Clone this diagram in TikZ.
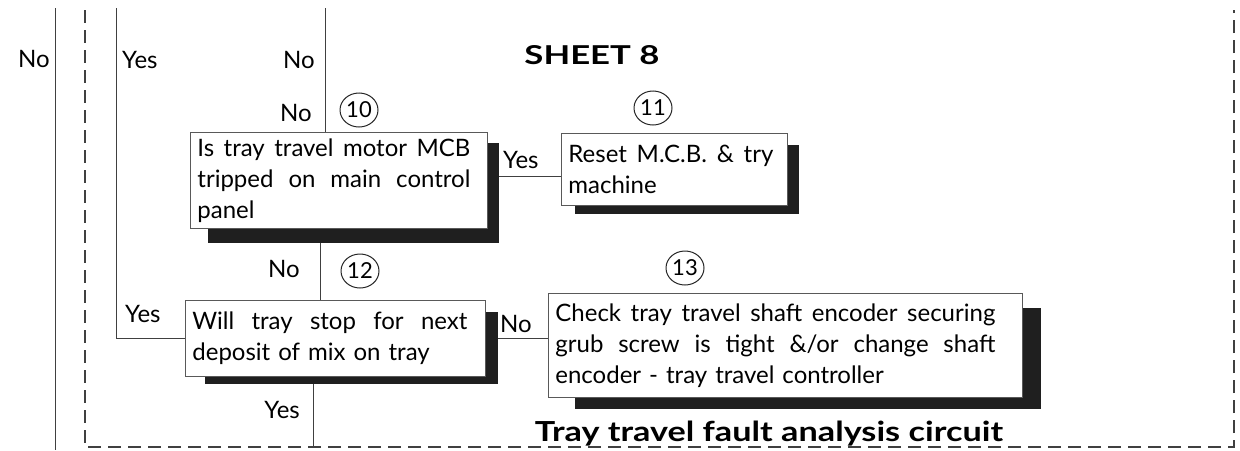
\documentclass[tikz,border=0pt]{standalone}
\usepackage{fontspec}
\setmainfont{Lato}
\usetikzlibrary{shapes.geometric}
\pgfdeclarelayer{bg}
\pgfsetlayers{bg,main}
\newcommand\boxfont{\fontsize{24}{31}\selectfont}
\newcommand\lblfont{\fontsize{24}{26}\selectfont}
\newcommand\numfont{\fontsize{22}{24}\selectfont}
\newcommand\jl[2]{\makebox[#1][s]{\spaceskip=0pt\xspaceskip=0pt #2}}
\begin{document}
\begin{tikzpicture}[x=1pt,y=-1pt,
  ln/.style={draw=black!75, line width=0.9pt},
  dsh/.style={draw=black!75, line width=1.3pt, dash pattern=on 13pt off 7pt},
  fbox/.style={rectangle, draw=black!65, line width=0.8pt, fill=white, anchor=north west,
    inner xsep=7pt, inner ysep=0pt, align=left, font=\boxfont},
  lbl/.style={font=\lblfont, inner sep=0pt},
  num/.style={ellipse, draw=black!85, line width=1pt, minimum width=38pt, minimum height=34pt,
    inner sep=0pt, font=\numfont},
  shd/.style={fill=black!88}]
\useasboundingbox (0,0) rectangle (1240,450);

% boxes
\node[fbox, minimum width=297pt, minimum height=96pt, text width=283pt] (b10) at (190,132)
  {\jl{273pt}{Is tray travel motor MCB}\\ \jl{273pt}{tripped on main control}\\ panel};
\node[fbox, minimum width=226pt, minimum height=72pt, text width=212pt] (b11) at (561,133)
  {\jl{205pt}{Reset M.C.B. \& try}\\ machine};
\node[fbox, minimum width=300pt, minimum height=76pt, text width=286pt] (b12) at (185,300)
  {\jl{275pt}{Will tray stop for next}\\ deposit of mix on tray};
\node[fbox, minimum width=474pt, minimum height=104pt, text width=460pt] (b13) at (548,293)
  {\jl{440pt}{Check tray travel shaft encoder securing}\\ \jl{440pt}{grub screw is tight \&/or change shaft}\\ encoder - tray travel controller};

% circled numbers
\node[num] (n10) at (359,110) {10};
\node[num] (n11) at (653,108) {11};
\node[num] (n12) at (360,271) {12};
\node[num] (n13) at (685,268) {13};

% titles
\node[inner sep=0pt] (sheet) at (592,55) {\resizebox{135pt}{19pt}{\bfseries SHEET 8}};
\node[inner sep=0pt, anchor=base] (title) at (769,441) {\resizebox{468pt}{20.5pt}{\bfseries\fontsize{25}{28}\selectfont Tray travel fault analysis circuit}};

% labels
\node[lbl, anchor=base east] (l1) at (50,67) {No};
\node[lbl, anchor=base west] (l2) at (122,68) {Yes};
\node[lbl, anchor=base east] (l3) at (315,68) {No};
\node[lbl, anchor=base east] (l4) at (312,121) {No};
\node[lbl, anchor=base east] (l5) at (300,277) {No};
\node[lbl, anchor=base west] (l6) at (125,322) {Yes};
\node[lbl, anchor=base east] (l7) at (300,418) {Yes};
\node[lbl, anchor=base west] (l8) at (503,168) {Yes};
\node[lbl, anchor=base west] (l9) at (500,332) {No};

% free ends
\coordinate (t1) at (55,8);
\coordinate (e1) at (55,450);
\coordinate (t2) at (116,8);
\coordinate (t3) at (325,8);
\coordinate (x4) at (320,0);
\coordinate (x5) at (313,447);
\coordinate (y6) at (0,176);
\coordinate (d1) at (85,10);
\coordinate (d2) at (85,447);
\coordinate (d3) at (1234,447);
\coordinate (d4) at (1234,10);

\begin{pgfonlayer}{bg}
  \draw[ln] (t1) -- (e1);
  \draw[ln] (t2) |- (b12.west);
  \draw[ln] (t3) -- (t3 |- b10.north);
  \draw[ln] (x4 |- b10.south) -- (x4 |- b12.north);
  \draw[ln] (x5 |- b12.south) -- (x5);
  \draw[ln] (b10.east |- y6) -- (b11.west |- y6);
  \draw[ln] (b12.east) -- (b12.east -| b13.west);
  \draw[dsh] (d1) -- (d2) -- (d3) -- (d4);
  % shadows
  \fill[shd] ([shift={(18pt,-11pt)}]b10.north west) rectangle ([shift={(11pt,-14pt)}]b10.south east);
  \fill[shd] ([shift={(14pt,-12pt)}]b11.north west) rectangle ([shift={(11pt,-8pt)}]b11.south east);
  \fill[shd] ([shift={(20pt,-12pt)}]b12.north west) rectangle ([shift={(12pt,-7pt)}]b12.south east);
  \fill[shd] ([shift={(27pt,-15pt)}]b13.north west) rectangle ([shift={(18pt,-11pt)}]b13.south east);
\end{pgfonlayer}
\end{tikzpicture}
\end{document}
